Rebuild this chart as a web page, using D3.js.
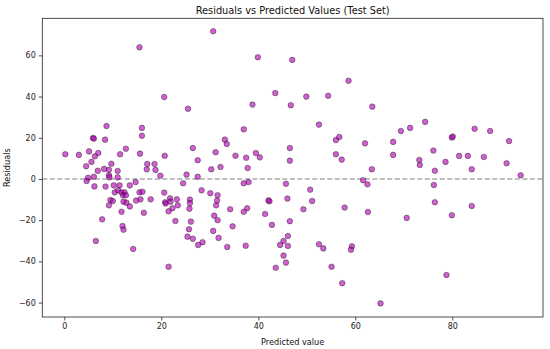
<!DOCTYPE html>
<html>
<head>
<meta charset="utf-8">
<script src="https://cdn.jsdelivr.net/npm/d3@7"></script>
<style>
  html, body { margin: 0; padding: 0; background: #fff; }
  svg { display: block; font-family: "DejaVu Sans", sans-serif; }
</style>
</head>
<body>
<svg id="chart" width="550" height="349"></svg>
<script>
// Predicted values (x) and residuals (y)
const predicted = [
  15.5, 20.6, 8.7, 5.9, 6.1, 8.4, 16.0, 16.0, 0.2, 3.0, 5.1, 7.0, 6.3, 12.7, 11.5, 15.6, 20.7, 5.6, 4.5, 9.7,
  17.1, 18.6, 17.0, 18.8, 6.9, 8.2, 9.2, 11.0, 19.8, 4.9, 6.1, 9.2, 9.3, 11.0,
  4.6, 6.2, 8.5, 10.2, 11.4, 13.5, 14.7, 10.4, 11.1, 11.8, 12.4, 12.1, 12.7, 9.5, 10.0, 9.2,
  12.2, 12.8, 13.5, 11.8, 15.5, 16.1, 15.7, 14.8, 17.8, 16.4, 20.6, 20.8, 20.9, 7.8, 12.0, 12.2, 6.5, 14.2,
  30.7, 39.9, 25.5, 43.5, 38.8, 37.0, 33.1, 33.5, 26.5, 31.2, 27.5, 35.3, 37.5, 39.5, 40.3, 30.3, 32.2, 37.8, 25.2, 27.5,
  47.0, 58.6, 49.9, 54.4, 46.7, 63.5, 52.5, 56.7, 56.0, 62.0, 69.4, 67.8, 46.5, 46.5, 56.0, 57.2, 67.8, 63.4, 61.6, 62.5,
  71.3, 74.4, 84.6, 87.8, 79.9, 80.1, 91.7, 76.1, 73.2, 73.3, 78.6, 81.4, 83.2, 86.5, 91.2, 76.4, 84.0, 94.1,
  76.2, 76.4, 84.0, 70.6, 79.9, 78.8,
  45.7, 50.7, 46.0, 51.1, 49.3, 57.8, 62.6, 46.5, 46.1, 46.1, 52.5, 53.4, 59.3, 59.1, 55.1, 57.3, 65.2,
  24.5, 37.0, 38.0, 28.3, 30.1, 31.6, 31.5, 31.3, 25.9, 25.9, 25.8, 23.2, 21.8, 21.9, 23.4, 22.3, 21.5, 22.9, 26.1,
  30.9, 31.6, 34.2, 34.7, 37.0, 37.7, 25.7, 25.4, 26.5, 30.7, 31.8, 27.6, 28.5, 33.6, 37.4, 21.5, 42.1, 42.3, 41.4, 42.8,
  45.2, 44.5, 45.2, 45.7, 43.6
];
const residuals = [
  63.9, 39.8, 25.7, 19.9, 19.6, 19.1, 24.8, 21.0, 12.0, 11.7, 13.4, 12.6, 11.0, 14.7, 12.0, 12.3, 11.3, 8.3, 6.2, 7.4,
  7.3, 7.3, 4.7, 4.4, 4.0, 4.9, 4.5, 3.9, 1.6, 0.6, 1.1, 1.8, 0.8, 0.8,
  -1.0, -3.6, -3.7, -3.1, -3.1, -3.1, -1.5, -6.5, -5.5, -6.5, -6.5, -7.9, -7.9, -10.2, -10.7, -12.8,
  -11.0, -11.5, -13.3, -15.9, -6.5, -6.2, -9.9, -10.5, -9.9, -16.4, -6.6, -11.3, -11.9, -19.6, -22.8, -24.6, -30.1, -34.0,
  71.7, 59.1, 34.1, 41.7, 36.1, 24.1, 19.1, 17.0, 15.0, 13.0, 9.1, 11.3, 10.3, 12.6, 10.5, 4.7, 5.8, 5.3, 2.1, 1.1,
  57.8, 47.7, 40.0, 40.4, 35.8, 35.1, 26.4, 20.4, 18.9, 17.3, 23.3, 18.0, 15.0, 8.9, 12.0, 9.4, 11.7, 4.7, -0.6, -2.6,
  24.8, 27.7, 24.4, 23.3, 20.1, 20.6, 18.4, 13.8, 9.2, 6.8, 8.3, 11.2, 11.2, 10.7, 7.6, 4.0, 4.7, 1.8,
  -2.9, -11.3, -13.1, -18.9, -17.6, -46.6,
  -2.3, -5.2, -9.5, -10.7, -14.7, -13.9, -16.0, -20.5, -27.7, -32.5, -31.7, -33.7, -32.7, -34.3, -42.6, -50.6, -60.4,
  -2.1, -2.1, -1.5, -5.5, -6.9, -7.9, -10.5, -12.8, -10.0, -11.7, -14.4, -9.9, -9.4, -11.0, -12.8, -14.2, -15.7, -20.4, -20.7,
  -17.8, -20.0, -14.7, -23.0, -15.9, -14.2, -24.4, -28.0, -29.0, -25.2, -28.6, -32.0, -30.7, -33.0, -32.4, -42.6, -10.4, -10.8, -17.0, -22.3,
  -30.1, -32.0, -37.2, -40.6, -43.1
];
const xTicks = [0, 20, 40, 60, 80];
const yTicks = [-60, -40, -20, 0, 20, 40, 60];
const titleText = "Residuals vs Predicted Values (Test Set)";
const xLabel = "Predicted value";
const yLabel = "Residuals";

const points = predicted.map((p, i) => ({ x: p, y: residuals[i] }));

const svg = d3.select("#chart");
const L = 42.3, R = 543, T = 18.3, B = 317;

const x = d3.scaleLinear().domain([-4.54, 98.7]).range([L, R]);
const y = d3.scaleLinear().domain([-67, 78]).range([B, T]);

const fmt = d => (d < 0 ? "\u2212" + Math.abs(d) : String(d));

// zero line
svg.append("line")
  .attr("x1", L).attr("x2", R)
  .attr("y1", y(0)).attr("y2", y(0))
  .attr("stroke", "#808080").attr("stroke-width", 1.2)
  .attr("stroke-dasharray", "5,2.5");

// points
svg.append("g").selectAll("circle")
  .data(points).enter().append("circle")
  .attr("cx", d => x(d.x))
  .attr("cy", d => y(d.y))
  .attr("r", 2.8)
  .attr("fill", "#b000b0")
  .attr("fill-opacity", 0.62)
  .attr("stroke", "#000")
  .attr("stroke-opacity", 0.6)
  .attr("stroke-width", 0.6);

// axes
const xAxis = d3.axisBottom(x).tickValues(xTicks).tickFormat(fmt).tickSize(3.5).tickPadding(3);
const yAxis = d3.axisLeft(y).tickValues(yTicks).tickFormat(fmt).tickSize(3.5).tickPadding(3);

const gx = svg.append("g").attr("transform", `translate(0,${B})`).call(xAxis);
const gy = svg.append("g").attr("transform", `translate(${L},0)`).call(yAxis);
[gx, gy].forEach(g => {
  g.select(".domain").remove();
  g.selectAll(".tick line").attr("stroke", "#222").attr("stroke-width", 0.8);
  g.selectAll(".tick text").attr("fill", "#222").style("font-size", "8px")
    .style("font-family", "'DejaVu Sans', sans-serif");
});

// frame
svg.append("rect")
  .attr("x", L).attr("y", T).attr("width", R - L).attr("height", B - T)
  .attr("fill", "none").attr("stroke", "#222").attr("stroke-width", 0.8);

// title & labels
svg.append("text").attr("x", (L + R) / 2).attr("y", 13.5)
  .attr("text-anchor", "middle").style("font-size", "9.8px").attr("fill", "#111")
  .text(titleText);
svg.append("text").attr("x", (L + R) / 2).attr("y", 345)
  .attr("text-anchor", "middle").style("font-size", "8.2px").attr("fill", "#111")
  .text(xLabel);
svg.append("text")
  .attr("transform", `translate(9.5,${(T + B) / 2}) rotate(-90)`)
  .attr("text-anchor", "middle").style("font-size", "8.2px").attr("fill", "#111")
  .text(yLabel);
</script>
</body>
</html>
